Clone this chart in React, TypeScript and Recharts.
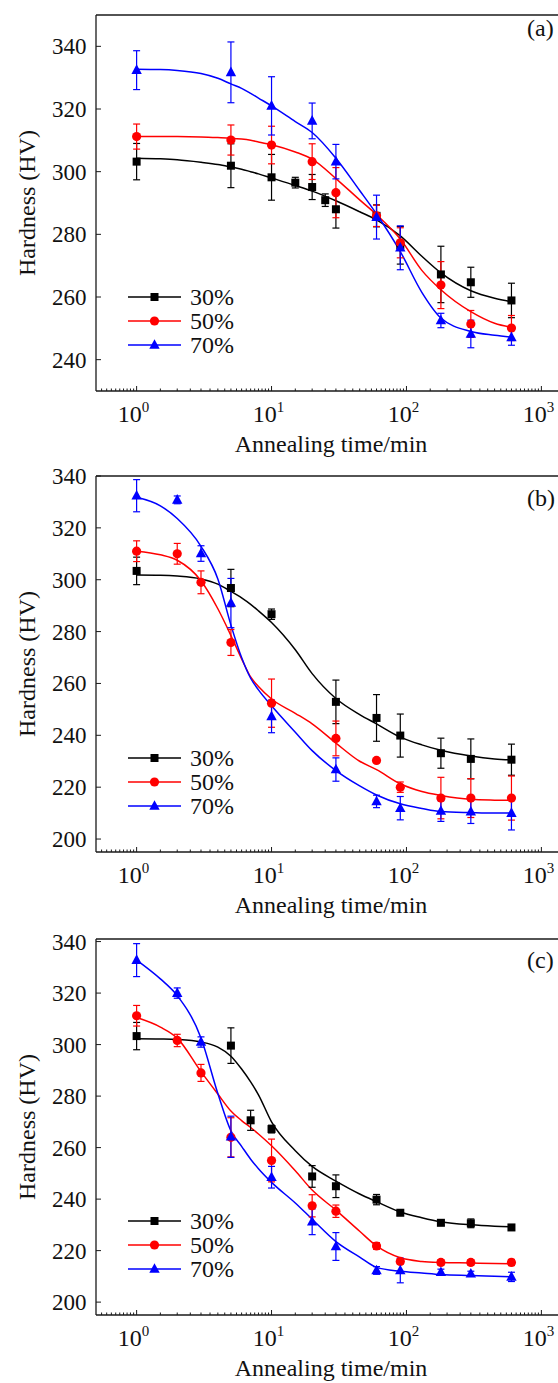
import React from 'react';
import {
  ComposedChart,
  Line,
  Scatter,
  ErrorBar,
  XAxis,
  YAxis,
  ReferenceLine,
} from 'recharts';

const FONT = '"Liberation Serif", "Times New Roman", serif';
const INK = '#1a1a1a';

const FIT_T = [1, 1.5, 2, 3, 4, 5, 6, 7, 8, 10, 15, 20, 30, 45, 60, 90, 130, 180, 300, 450, 600];

// ---- panel (a) ----
const A_T30 = [1, 5, 10, 15, 20, 25, 30, 60, 90, 180, 300, 600];
const A_H30 = [303.2, 301.9, 298.2, 296.5, 295.1, 290.9, 288.0, 285.9, 276.5, 267.2, 264.7, 258.9];
const A_E30 = [5.8, 7.0, 7.3, 1.7, 4.0, 2.0, 6.0, 3.5, 6.0, 9.0, 4.8, 5.5];
const A_T50 = [1, 5, 10, 20, 30, 60, 90, 180, 300, 600];
const A_H50 = [311.2, 310.1, 308.5, 303.2, 293.3, 285.9, 277.3, 263.8, 251.4, 250.1];
const A_E50 = [4.0, 4.8, 6.0, 5.7, 8.0, 3.4, 4.8, 7.5, 4.3, 4.0];
const A_T70 = [1, 5, 10, 20, 30, 60, 90, 180, 300, 600];
const A_H70 = [332.4, 331.7, 321.0, 316.2, 303.2, 285.5, 275.7, 252.5, 248.2, 247.1];
const A_E70 = [6.2, 9.7, 9.3, 5.7, 5.5, 7.0, 7.0, 2.3, 4.4, 2.5];
const A_FIT30 = [304.3, 304.1, 303.8, 303.0, 302.3, 301.5, 300.8, 300.0, 299.3, 298.0, 295.6, 293.8, 290.7, 287.2, 284.6, 279.5, 273.0, 267.7, 262.0, 259.6, 258.5];
const A_FIT50 = [311.2, 311.2, 311.2, 311.1, 310.9, 310.7, 310.4, 310.0, 309.5, 308.6, 306.3, 304.0, 297.8, 291.0, 286.3, 278.5, 268.5, 262.3, 255.3, 251.6, 250.3];
const A_FIT70 = [332.7, 332.6, 332.3, 331.3, 329.8, 328.0, 326.6, 325.0, 323.5, 321.0, 316.0, 312.5, 304.3, 294.0, 286.5, 274.5, 261.5, 253.3, 249.0, 247.8, 247.2];

// ---- panel (b) ----
const B_T30 = [1, 5, 10, 30, 60, 90, 180, 300, 600];
const B_H30 = [303.4, 296.8, 286.7, 252.9, 246.7, 239.9, 233.1, 230.9, 230.6];
const B_E30 = [5.3, 7.2, 2.0, 8.4, 9.0, 8.3, 5.8, 7.7, 6.0];
const B_T50 = [1, 2, 3, 5, 10, 30, 60, 90, 180, 300, 600];
const B_H50 = [311.0, 310.0, 299.0, 275.8, 252.4, 238.8, 230.3, 220.0, 215.8, 215.8, 215.8];
const B_E50 = [4.0, 4.0, 4.4, 5.0, 9.3, 6.7, 0.5, 2.0, 8.0, 7.5, 8.5];
const B_T70 = [1, 2, 3, 5, 10, 30, 60, 90, 180, 300, 600];
const B_H70 = [332.4, 330.8, 310.1, 291.0, 247.3, 226.8, 214.5, 211.9, 210.8, 210.5, 210.0];
const B_E70 = [6.2, 1.5, 3.0, 9.5, 6.3, 4.5, 2.4, 4.5, 4.0, 4.5, 6.5];
const B_FIT30 = [301.8, 301.7, 301.4, 300.3, 298.3, 295.5, 293.0, 290.5, 288.0, 283.5, 273.0, 263.8, 254.2, 248.0, 244.4, 239.3, 236.3, 234.2, 232.0, 230.9, 230.5];
const B_FIT50 = [311.0, 309.6, 307.5, 299.6, 288.8, 278.5, 269.5, 262.5, 258.8, 254.0, 248.5, 244.4, 237.0, 230.0, 226.8, 221.3, 218.3, 216.8, 215.3, 215.0, 214.9];
const B_FIT70 = [331.8, 328.5, 323.6, 312.9, 300.3, 282.5, 270.0, 262.0, 257.5, 251.4, 241.2, 234.1, 226.4, 220.5, 217.0, 213.6, 211.8, 210.6, 210.2, 210.0, 210.0];

// ---- panel (c) ----
const C_T30 = [1, 5, 7, 10, 20, 30, 60, 90, 180, 300, 600];
const C_H30 = [303.3, 299.6, 270.6, 267.2, 248.8, 245.0, 239.8, 234.7, 230.8, 230.6, 229.0];
const C_E30 = [5.3, 6.9, 3.9, 1.5, 4.2, 4.4, 2.0, 1.0, 1.0, 1.7, 1.0];
const C_T50 = [1, 2, 3, 5, 10, 20, 30, 60, 90, 180, 300, 600];
const C_H50 = [311.2, 301.6, 289.0, 264.0, 255.0, 237.4, 235.3, 221.8, 215.8, 215.4, 215.4, 215.4];
const C_E50 = [4.0, 2.4, 3.3, 7.6, 8.3, 4.3, 2.4, 1.3, 1.0, 1.0, 1.0, 1.2];
const C_T70 = [1, 2, 3, 5, 10, 20, 30, 60, 90, 180, 300, 600];
const C_H70 = [332.8, 320.0, 301.0, 264.2, 248.5, 231.2, 221.6, 212.3, 212.3, 211.6, 211.0, 209.8];
const C_E70 = [6.4, 2.0, 2.0, 8.0, 4.2, 5.0, 5.4, 1.5, 4.8, 1.2, 1.0, 1.8];
const C_FIT30 = [302.3, 302.2, 302.0, 301.0, 299.0, 295.5, 290.5, 285.5, 280.5, 270.0, 258.8, 252.7, 247.0, 242.0, 239.0, 235.0, 232.8, 231.2, 230.0, 229.5, 229.3];
const C_FIT50 = [310.5, 306.8, 302.5, 289.5, 280.8, 274.2, 270.5, 267.8, 265.3, 260.7, 251.0, 243.5, 235.7, 227.5, 221.8, 217.2, 215.8, 215.4, 215.2, 215.0, 214.9];
const C_FIT70 = [332.8, 325.5, 319.0, 302.6, 281.0, 266.5, 260.5, 255.5, 251.8, 246.5, 238.5, 232.2, 223.5, 217.5, 213.5, 212.0, 211.3, 210.7, 210.3, 210.0, 209.8];

const SERIES_NAMES = ['30%', '50%', '70%'];
const SERIES_COLORS = ['#000000', '#ff0000', '#0000ff'];
const SERIES_SHAPES = ['square', 'circle', 'triangle'];

const X_MAJOR = [1, 10, 100, 1000];
const X_MINOR_MULT = [1.5, 2, 2.5, 3, 3.5, 4, 4.5, 5, 5.5, 6, 6.5, 7, 7.5, 8, 8.5, 9, 9.5];
const X_TICKS: number[] = [...X_MAJOR];
[0.1, 1, 10, 100, 1000].forEach((d) =>
  X_MINOR_MULT.forEach((m) => {
    const v = +(m * d).toPrecision(6);
    if (v > 0.5 && v < 2000) X_TICKS.push(v);
  })
);
X_TICKS.sort((a, b) => a - b);

const Y_TICKS_A = [240, 260, 280, 300, 320, 340];
const Y_TICKS_BC = [200, 220, 240, 260, 280, 300, 320, 340];

const pts = (t: number[], h: number[], e?: number[]) =>
  t.map((tt, i) => ({ t: tt, h: h[i], e: e ? e[i] : 0 }));

// plot area sits 20px below each panel's top edge
const PANELS = [
  {
    tag: '(a)', top: -5, tagY: 41, yDomain: [230, 350], yTicks: Y_TICKS_A,
    points: [pts(A_T30, A_H30, A_E30), pts(A_T50, A_H50, A_E50), pts(A_T70, A_H70, A_E70)],
    fits: [pts(FIT_T, A_FIT30), pts(FIT_T, A_FIT50), pts(FIT_T, A_FIT70)],
  },
  {
    tag: '(b)', top: 456, tagY: 50, yDomain: [195, 340], yTicks: Y_TICKS_BC,
    points: [pts(B_T30, B_H30, B_E30), pts(B_T50, B_H50, B_E50), pts(B_T70, B_H70, B_E70)],
    fits: [pts(FIT_T, B_FIT30), pts(FIT_T, B_FIT50), pts(FIT_T, B_FIT70)],
  },
  {
    tag: '(c)', top: 919, tagY: 49, yDomain: [195, 341], yTicks: Y_TICKS_BC,
    points: [pts(C_T30, C_H30, C_E30), pts(C_T50, C_H50, C_E50), pts(C_T70, C_H70, C_E70)],
    fits: [pts(FIT_T, C_FIT30), pts(FIT_T, C_FIT50), pts(FIT_T, C_FIT70)],
  },
];

const Marker = ({ cx, cy, kind, color }: any) => {
  if (cx == null || cy == null) return null;
  if (kind === 'square') return <rect x={cx - 4} y={cy - 4} width={8} height={8} fill={color} />;
  if (kind === 'circle') return <circle cx={cx} cy={cy} r={4.6} fill={color} />;
  return <polygon points={`${cx},${cy - 5.8} ${cx - 5.2},${cy + 3.8} ${cx + 5.2},${cy + 3.8}`} fill={color} />;
};

const XTick = (props: any) => {
  const { x, y, payload } = props;
  const lg = Math.log10(payload.value);
  const major = Math.abs(lg - Math.round(lg)) < 1e-9;
  return (
    <g>
      <line x1={x} x2={x} y1={y} y2={y - (major ? 5 : 2.5)} stroke={INK} strokeWidth={1} />
      {major && (
        <text x={x - 3} y={y + 31} textAnchor="middle" fontFamily={FONT} fontSize={24} fill="#111">
          10<tspan dy={-10} fontSize={15}>{Math.round(lg)}</tspan>
        </text>
      )}
    </g>
  );
};

const YTick = (props: any) => {
  const { x, y, payload } = props;
  return (
    <g>
      <line x1={x} x2={x + 5} y1={y} y2={y} stroke={INK} strokeWidth={1} />
      <text x={x - 9.5} y={y} dy="0.35em" textAnchor="end" fontFamily={FONT} fontSize={23} fill="#111">
        {payload.value}
      </text>
    </g>
  );
};

const Panel = ({ p }: any) => (
  <div style={{ position: 'absolute', left: 0, top: p.top, width: 600, height: 470 }}>
    <ComposedChart width={600} height={470} margin={{ top: 20, right: 18, bottom: 0, left: 0 }}>
      <XAxis
        dataKey="t"
        type="number"
        scale="log"
        domain={[0.5, 2000]}
        allowDataOverflow
        ticks={X_TICKS}
        interval={0}
        tickSize={0}
        tickMargin={0}
        tickLine={false}
        tick={<XTick />}
        height={74}
        axisLine={{ stroke: INK, strokeWidth: 1.3 }}
      />
      <YAxis
        dataKey="h"
        type="number"
        domain={p.yDomain}
        allowDataOverflow
        ticks={p.yTicks}
        interval={0}
        width={96}
        tickSize={0}
        tickMargin={0}
        tickLine={false}
        tick={<YTick />}
        axisLine={{ stroke: INK, strokeWidth: 1.3 }}
      />
      <ReferenceLine y={p.yDomain[1]} stroke={INK} strokeWidth={1.3} />
      <ReferenceLine x={2000} stroke={INK} strokeWidth={1.3} />
      {p.fits.map((d: any, i: number) => (
        <Line
          key={'fit' + i}
          data={d}
          dataKey="h"
          type="monotone"
          stroke={SERIES_COLORS[i]}
          strokeWidth={1.5}
          dot={false}
          activeDot={false}
          isAnimationActive={false}
        />
      ))}
      {p.points.map((d: any, i: number) => (
        <Scatter
          key={'pts' + i}
          data={d}
          dataKey="h"
          fill={SERIES_COLORS[i]}
          isAnimationActive={false}
          shape={(sp: any) => <Marker cx={sp.cx} cy={sp.cy} kind={SERIES_SHAPES[i]} color={SERIES_COLORS[i]} />}
        >
          <ErrorBar dataKey="e" direction="y" width={3.5} stroke={SERIES_COLORS[i]} strokeWidth={1.2} isAnimationActive={false} />
        </Scatter>
      ))}
    </ComposedChart>
    <svg width={600} height={470} style={{ position: 'absolute', left: 0, top: 0, pointerEvents: 'none' }}>
      <g fontFamily={FONT} fill="#111">
        <text x={331} y={457} textAnchor="middle" fontSize={24}>Annealing time/min</text>
        <text transform="translate(27,208) rotate(-90)" dy="0.35em" textAnchor="middle" fontSize={24}>
          Hardness (HV)
        </text>
        <text x={527} y={p.tagY} fontSize={24}>{p.tag}</text>
        {SERIES_NAMES.map((n, i) => {
          const y = 302 + i * 24;
          return (
            <g key={n}>
              <line x1={128} x2={181} y1={y} y2={y} stroke={SERIES_COLORS[i]} strokeWidth={1.5} />
              <Marker cx={154.5} cy={y} kind={SERIES_SHAPES[i]} color={SERIES_COLORS[i]} />
              <text x={190} y={y} dy="0.35em" fontSize={24}>{n}</text>
            </g>
          );
        })}
      </g>
    </svg>
  </div>
);

export default function App() {
  return (
    <div
      style={{
        position: 'absolute',
        left: 0,
        top: 0,
        width: 558,
        height: 1383,
        overflow: 'hidden',
        background: '#fff',
      }}
    >
      {PANELS.map((p) => (
        <Panel key={p.tag} p={p} />
      ))}
    </div>
  );
}
